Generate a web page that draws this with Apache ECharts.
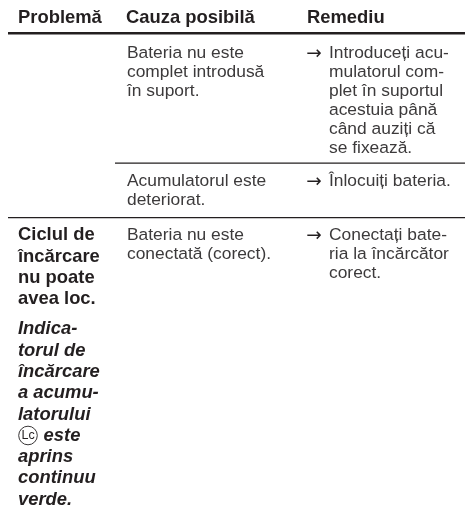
<!DOCTYPE html>
<html><head><meta charset="utf-8">
<style>html,body{margin:0;padding:0;background:#fff}#c{width:465px;height:513px}</style>
<script src="https://cdn.jsdelivr.net/npm/echarts@6/dist/echarts.min.js"></script>
</head><body><div id="c"></div>
<script>
const headers = ['Problemă', 'Cauza posibilă', 'Remediu'];
const cause1 = ['Bateria nu este', 'complet introdusă', 'în suport.'];
const remedy1 = ['Introduceți acu-', 'mulatorul com-', 'plet în suportul', 'acestuia până', 'când auziți că', 'se fixează.'];
const cause2 = ['Acumulatorul este', 'deteriorat.'];
const remedy2 = ['Înlocuiți bateria.'];
const problem3 = ['Ciclul de', 'încărcare', 'nu poate', 'avea loc.'];
const problem3b = ['Indica-', 'torul de', 'încărcare', 'a acumu-', 'latorului', '     este', 'aprins', 'continuu', 'verde.'];
const cause3 = ['Bateria nu este', 'conectată (corect).'];
const remedy3 = ['Conectați bate-', 'ria la încărcător', 'corect.'];

const FONT = '"Liberation Sans", Arial, sans-serif', INK = '#231f20', SOFT = '#3c3a3b';
const X1 = 18, X2 = 127, X3 = 307, X3T = 329, BODY = 17.4, BOLD = 18.4, LH = 18.9, BLH = 21.3;
const g = [];
function text(s, x, base, font, size, fill, family) {
  g.push({type: 'text', x, y: base - size * 0.34, silent: true, style: {
    text: s, font: `${font || ''} ${size}px ${family || FONT}`, fill: fill || INK,
    textAlign: 'left', verticalAlign: 'middle'
  }});
}
function arrow(base) { text('→', X3 - 0.8, base + 1, '', 18.5, INK, '"DejaVu Sans"'); }
function block(lines, x, y, lh, font, size, fill) {
  lines.forEach((s, i) => text(s, x, y + i * lh, font, size, fill));
}
function rule(x1, y, w) {
  g.push({type: 'rect', silent: true, shape: {x: x1, y, width: 465 - x1, height: w}, style: {fill: INK}});
}
text(headers[0], X1, 24.5, 'bold', BOLD);
text(headers[1], X2 - 1, 24.5, 'bold', BOLD);
text(headers[2], X3, 24.5, 'bold', BOLD);
rule(8, 32, 2.4);
block(cause1, X2, 59.5, LH, '', BODY, SOFT);
arrow(59.5); block(remedy1, X3T, 59.5, LH, '', BODY, SOFT);
rule(115, 162.5, 1.2);
block(cause2, X2, 187, LH, '', BODY, SOFT);
arrow(187); block(remedy2, X3T, 187, LH, '', BODY, SOFT);
rule(8, 217, 1.2);
block(problem3, X1, 241.5, BLH, 'bold', BOLD);
block(cause3, X2, 241, LH, '', BODY, SOFT);
arrow(241); block(remedy3, X3T, 241, LH, '', BODY, SOFT);
block(problem3b, X1, 335.5, BLH, 'italic bold', BOLD);
g.push({type: 'circle', silent: true, shape: {cx: 28, cy: 435.5, r: 9.3}, style: {fill: 'none', stroke: INK, lineWidth: 0.9}});
text('Lc', 21.5, 440, '', 12.5);

const chart = echarts.init(document.getElementById('c'), null, {renderer: 'canvas'});
chart.setOption({animation: false, backgroundColor: '#fff', graphic: {elements: g}});
</script></body></html>
